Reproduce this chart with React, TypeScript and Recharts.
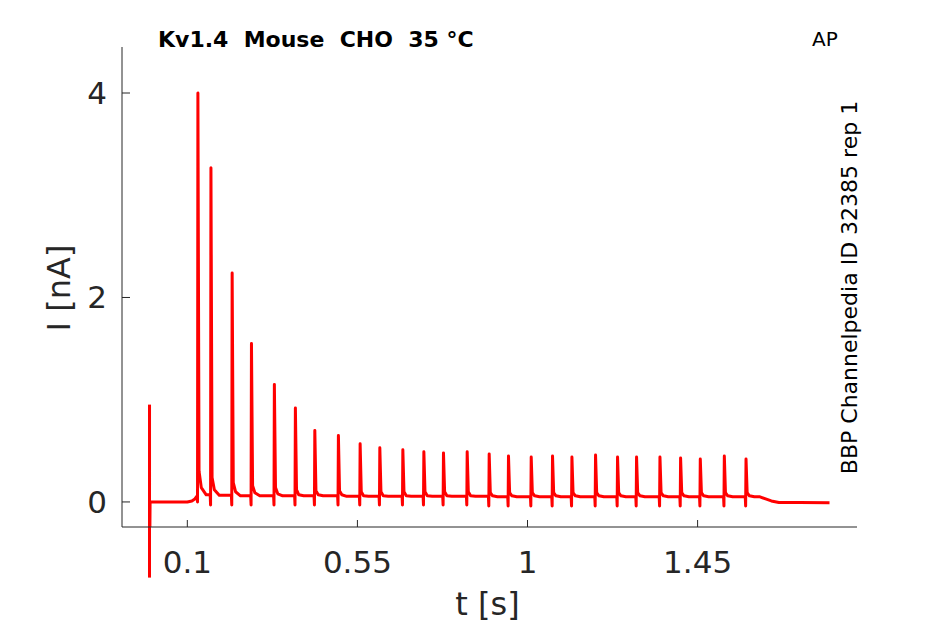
import React from 'react';
import { LineChart, Line, XAxis, YAxis, ReferenceLine } from 'recharts';

// ---- data ----
const xTicks = [0.1, 0.55, 1, 1.45];
const yTicks = [0, 2, 4];

// stimulus artefact at t = 0
const artifactTime = 0;
const artifactTop = 0.95;
const artifactBottom = -0.74;

// trace before the first action potential
const onsetTimes = [0, 0, 0.0015, 0.1, 0.112, 0.12, 0.126];
const onsetValues = [0.95, -0.74, 0.0, 0.0, 0.01, 0.03, 0.06];

// action-potential evoked current peaks
const spikeTimes = [
  0.128, 0.1625, 0.2186, 0.2697, 0.3303, 0.3859, 0.4373, 0.4997, 0.5572, 0.6093,
  0.6702, 0.7258, 0.7777, 0.8404, 0.8986, 0.9497, 1.0098, 1.0662, 1.1175, 1.18,
  1.2382, 1.2885, 1.3504, 1.405, 1.4571, 1.5207, 1.5781,
];
const spikePeaks = [
  4.0, 3.27, 2.24, 1.55, 1.15, 0.92, 0.7, 0.65, 0.57, 0.53,
  0.51, 0.49, 0.48, 0.49, 0.47, 0.45, 0.44, 0.45, 0.44, 0.46,
  0.44, 0.44, 0.44, 0.43, 0.42, 0.45, 0.42,
];
const spikeDips = [
  0.0, -0.03, -0.03, -0.03, -0.03, -0.03, -0.03, -0.03, -0.03, -0.03,
  -0.03, -0.03, -0.03, -0.03, -0.04, -0.04, -0.04, -0.04, -0.04, -0.04,
  -0.04, -0.04, -0.04, -0.04, -0.04, -0.04, -0.04,
];
const tailEarly = [
  0.3, 0.24, 0.19, 0.16, 0.14, 0.12, 0.11, 0.11, 0.1, 0.1,
  0.1, 0.1, 0.1, 0.1, 0.09, 0.09, 0.09, 0.09, 0.09, 0.09,
  0.09, 0.09, 0.09, 0.09, 0.09, 0.09, 0.09,
];
const tailLate = [
  0.14, 0.12, 0.1, 0.09, 0.08, 0.07, 0.07, 0.07, 0.06, 0.06,
  0.06, 0.06, 0.06, 0.06, 0.06, 0.06, 0.06, 0.06, 0.06, 0.06,
  0.06, 0.06, 0.06, 0.06, 0.06, 0.06, 0.06,
];
const baseLevels = [
  0.07, 0.065, 0.06, 0.06, 0.06, 0.06, 0.06, 0.055, 0.055, 0.055,
  0.055, 0.055, 0.055, 0.055, 0.05, 0.05, 0.05, 0.05, 0.05, 0.05,
  0.05, 0.05, 0.05, 0.05, 0.05, 0.05, 0.05,
];

// trace after the last action potential
const offsetTimes = [1.615, 1.63, 1.645, 1.665, 1.72, 1.799];
const offsetValues = [0.05, 0.03, 0.01, -0.005, -0.005, -0.007];

// ---- build the table for the library ----
type Pt = { t: number; i: number };
const trace: Pt[] = [];
onsetTimes.forEach((t, k) => trace.push({ t, i: onsetValues[k] }));
spikeTimes.forEach((t, k) => {
  trace.push({ t: t - 0.001, i: spikeDips[k] });
  trace.push({ t, i: spikePeaks[k] });
  trace.push({ t: t + 0.003, i: tailEarly[k] });
  trace.push({ t: t + 0.009, i: tailLate[k] });
  trace.push({ t: t + 0.022, i: baseLevels[k] });
  const next = spikeTimes[k + 1];
  if (next !== undefined) trace.push({ t: next - 0.002, i: baseLevels[k] });
});
offsetTimes.forEach((t, k) => trace.push({ t, i: offsetValues[k] }));

const FONT = 'DejaVu Sans, sans-serif';
const AXIS = '#262626';

export default function App() {
  return (
    <div style={{ position: 'absolute', left: 0, top: 0, width: 945, height: 624, background: '#fff' }}>
      <LineChart
        width={945}
        height={624}
        data={trace}
        margin={{ top: 47, right: 88, bottom: 37, left: 62 }}
      >
        <XAxis
          type="number"
          dataKey="t"
          domain={[-0.0728, 1.8717]}
          allowDataOverflow
          ticks={xTicks}
          height={60}
          tickSize={-7}
          tickMargin={31}
          axisLine={{ stroke: AXIS, strokeWidth: 1 }}
          tickLine={{ stroke: AXIS, strokeWidth: 1 }}
          tick={{ fill: AXIS, fontSize: 31, fontFamily: FONT }}
          interval={0}
        />
        <YAxis
          type="number"
          domain={[-0.245, 4.45]}
          allowDataOverflow
          ticks={yTicks}
          width={60}
          tickSize={-8}
          tickMargin={23}
          axisLine={{ stroke: AXIS, strokeWidth: 1 }}
          tickLine={{ stroke: AXIS, strokeWidth: 1 }}
          tick={{ fill: AXIS, fontSize: 31, fontFamily: FONT }}
          interval={0}
        />
        <Line
          type="linear"
          dataKey="i"
          stroke="#ff0000"
          strokeWidth={3}
          strokeLinejoin="round"
          dot={false}
          activeDot={false}
          isAnimationActive={false}
        />
        <ReferenceLine
          segment={[
            { x: artifactTime, y: artifactTop },
            { x: artifactTime, y: artifactBottom },
          ]}
          stroke="#ff0000"
          strokeWidth={3}
          ifOverflow="visible"
        />
        <text x={158} y={47} fontFamily={FONT} fontWeight="bold" fontSize={22} fill="#000" style={{ whiteSpace: 'pre' }}>
          {'Kv1.4  Mouse  CHO  35 °C'}
        </text>
        <text x={812} y={46} fontFamily={FONT} fontSize={20} fill="#000">
          AP
        </text>
        <text
          x={857}
          y={287.5}
          fontFamily={FONT}
          fontSize={22}
          fill="#000"
          textAnchor="middle"
          transform="rotate(-90, 857, 287.5)"
        >
          BBP Channelpedia ID 32385 rep 1
        </text>
        <text
          x={70}
          y={288}
          fontFamily={FONT}
          fontSize={32}
          fill={AXIS}
          textAnchor="middle"
          transform="rotate(-90, 70, 288)"
        >
          I [nA]
        </text>
        <text x={487.5} y={615} fontFamily={FONT} fontSize={32} fill={AXIS} textAnchor="middle">
          t [s]
        </text>
      </LineChart>
    </div>
  );
}
